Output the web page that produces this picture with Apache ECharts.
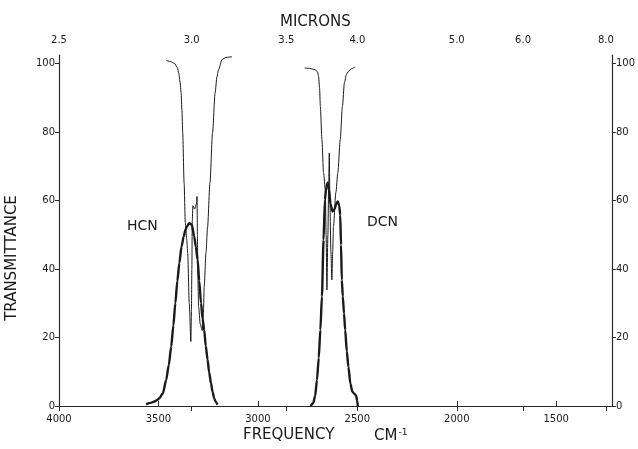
<!DOCTYPE html>
<html>
<head>
<meta charset="utf-8">
<script src="https://cdn.jsdelivr.net/npm/echarts@6/dist/echarts.min.js"></script>
<style>
  html, body { margin: 0; padding: 0; background: #fff; }
  #chart { width: 638px; height: 449px; }
</style>
</head>
<body>
<div id="chart"></div>
<script>
// Frequency axis (cm-1) and transmittance axis tick values
const freqTicks = [4000, 3500, 3000, 2500, 2000, 1500];
const micronTicks = [2.5, 3.0, 3.5, 4.0, 5.0, 6.0, 8.0];
const transTicks = [0, 20, 40, 60, 80, 100];

// HCN band (heavy trace)
const hcnBandCm = [3562, 3540, 3520, 3505, 3495, 3478, 3461, 3448, 3436, 3425, 3415, 3405, 3395, 3384, 3373, 3364, 3356, 3345, 3332, 3320, 3312, 3303, 3295, 3286, 3278, 3270, 3262, 3253, 3245, 3236, 3228, 3220, 3212, 3203];
const hcnBandT  = [0.5, 0.9, 1.3, 1.8, 2.3, 3.7, 7.6, 12, 17.3, 23.5, 30.0, 36.5, 41.7, 46.5, 49.5, 51.5, 52.4, 53.4, 52.9, 49.5, 46.5, 42.7, 36.5, 30.1, 25.5, 22.2, 17.5, 13.5, 9.8, 6.7, 4.2, 2.3, 1.2, 0.4];

// HCN reference trace (light)
const hcnRefCm = [3461, 3440, 3420, 3405, 3398, 3391, 3386, 3382, 3378, 3371, 3365, 3358, 3353, 3345, 3337, 3334, 3332, 3330, 3327, 3318, 3309, 3306, 3304, 3302, 3298, 3290, 3280, 3274, 3270, 3261, 3253, 3241, 3228, 3215, 3206, 3198, 3180, 3160, 3130];
const hcnRefT  = [100.9, 100.6, 100.1, 98.8, 97.2, 94.5, 91.5, 86.5, 79.8, 65.2, 53.5, 49, 44.7, 30.0, 18.8, 28, 40, 54, 58.5, 57.5, 59, 61.2, 50, 38, 29, 24, 22, 27, 34.9, 44.7, 52.3, 65.2, 79.8, 91.5, 96, 98.2, 101.2, 101.8, 102];

// DCN band (heavy trace)
const dcnBandCm = [2735, 2722, 2712, 2703, 2694, 2686, 2678, 2670, 2663, 2656, 2649, 2642, 2635, 2625, 2615, 2605, 2598, 2591, 2586, 2582, 2578, 2573, 2567, 2561, 2553, 2545, 2535, 2525, 2515, 2506, 2501, 2497];
const dcnBandT  = [0, 0.8, 3, 7.6, 14, 22.2, 32.0, 48.5, 60.2, 64, 65.2, 63, 59, 56.8, 57.5, 59.2, 59.7, 58.5, 55.8, 47, 36.8, 32, 27, 22.2, 16, 11.5, 6.5, 4.2, 3.6, 3.0, 1.5, 0];

// DCN reference trace (light)
const dcnRefCm = [2765, 2740, 2712, 2700, 2695, 2690, 2686, 2678, 2670, 2661, 2657, 2653, 2648, 2644, 2641, 2638, 2633, 2628, 2624, 2620, 2608, 2598, 2586, 2575, 2565, 2555, 2545, 2530, 2511];
const dcnRefT  = [98.7, 98.6, 98.2, 97.5, 96.3, 93, 87.5, 77.8, 68.1, 63.2, 50, 33.9, 50, 65, 73.9, 60, 45, 36.8, 45, 52.4, 62.3, 68.1, 77.8, 87.5, 94.4, 96.8, 97.7, 98.5, 99.0];

const zip = (xs, ys) => xs.map((x, i) => [x, ys[i]]);

const ink = '#1a1a1a';
const frame = '#2a2a2a';
const font = 'DejaVu Sans';

const chart = echarts.init(document.getElementById('chart'), null, { renderer: 'canvas' });

const yAxisCommon = {
  type: 'value', min: 0, max: 102.5,
  splitLine: { show: false },
  axisLine: { show: true, lineStyle: { color: frame, width: 1.2 } },
  axisTick: { show: true, inside: false, length: 4, customValues: transTicks, lineStyle: { color: frame } },
  axisLabel: { customValues: transTicks, color: ink, fontFamily: font, fontSize: 10, margin: 4, formatter: v => String(v) }
};

const lineSeries = (name, data, width) => ({
  name, type: 'line', data, showSymbol: false, smooth: 0.25, smoothMonotone: 'x',
  xAxisIndex: 0, yAxisIndex: 0,
  lineStyle: { color: ink, width }, silent: true, animation: false
});

chart.setOption({
  backgroundColor: '#fff',
  animation: false,
  grid: { left: 59, right: 19, top: 55, bottom: 43 },
  xAxis: [
    {
      type: 'value', position: 'bottom', min: 1220, max: 4000, inverse: true,
      splitLine: { show: false },
      axisLine: { show: true, lineStyle: { color: frame, width: 1.2 } },
      axisTick: { show: true, inside: true, length: 5, customValues: freqTicks, lineStyle: { color: frame } },
      axisLabel: { customValues: freqTicks, color: ink, fontFamily: font, fontSize: 10, margin: 8, formatter: v => String(v) }
    },
    {
      type: 'value', position: 'top', min: 1220, max: 4000, inverse: true,
      splitLine: { show: false },
      axisLine: { show: true, lineStyle: { color: frame, width: 1.2 } },
      axisTick: { show: true, inside: true, length: 5, customValues: micronTicks.map(m => 10000 / m), lineStyle: { color: frame } },
      axisLabel: {
        customValues: micronTicks.map(m => 10000 / m),
        color: ink, fontFamily: font, fontSize: 10, margin: 10,
        formatter: v => {
          const m = micronTicks.find(t => Math.abs(10000 / t - v) < 0.5);
          return m === undefined ? '' : m.toFixed(1);
        }
      }
    }
  ],
  yAxis: [
    Object.assign({ position: 'left' }, yAxisCommon),
    Object.assign({ position: 'right' }, yAxisCommon)
  ],
  graphic: [
    { type: 'text', x: 280, y: 15, style: { text: 'MICRONS', fill: ink, font: '15px "DejaVu Sans"' } },
    { type: 'text', x: 243, y: 428, style: { text: 'FREQUENCY', fill: ink, font: '15px "DejaVu Sans"' } },
    {
      type: 'text', x: 374, y: 428,
      style: {
        text: 'CM{s|-1}', fill: ink, font: '15px "DejaVu Sans"',
        rich: { s: { fontSize: 9, fontFamily: font, fill: ink, verticalAlign: 'top', padding: [0, 0, 8, 1] } }
      }
    },
    {
      type: 'text', x: 12, y: 258, rotation: Math.PI / 2,
      style: { text: 'TRANSMITTANCE', fill: ink, font: '15px "DejaVu Sans"', align: 'center', verticalAlign: 'middle' }
    },
    { type: 'text', x: 127, y: 219, style: { text: 'HCN', fill: ink, font: '14px "DejaVu Sans"' } },
    { type: 'text', x: 367, y: 215, style: { text: 'DCN', fill: ink, font: '14px "DejaVu Sans"' } }
  ],
  series: [
    lineSeries('HCN band', zip(hcnBandCm, hcnBandT), 2.4),
    lineSeries('HCN reference', zip(hcnRefCm, hcnRefT), 1),
    lineSeries('DCN band', zip(dcnBandCm, dcnBandT), 2.4),
    lineSeries('DCN reference', zip(dcnRefCm, dcnRefT), 1)
  ]
});
</script>
</body>
</html>
